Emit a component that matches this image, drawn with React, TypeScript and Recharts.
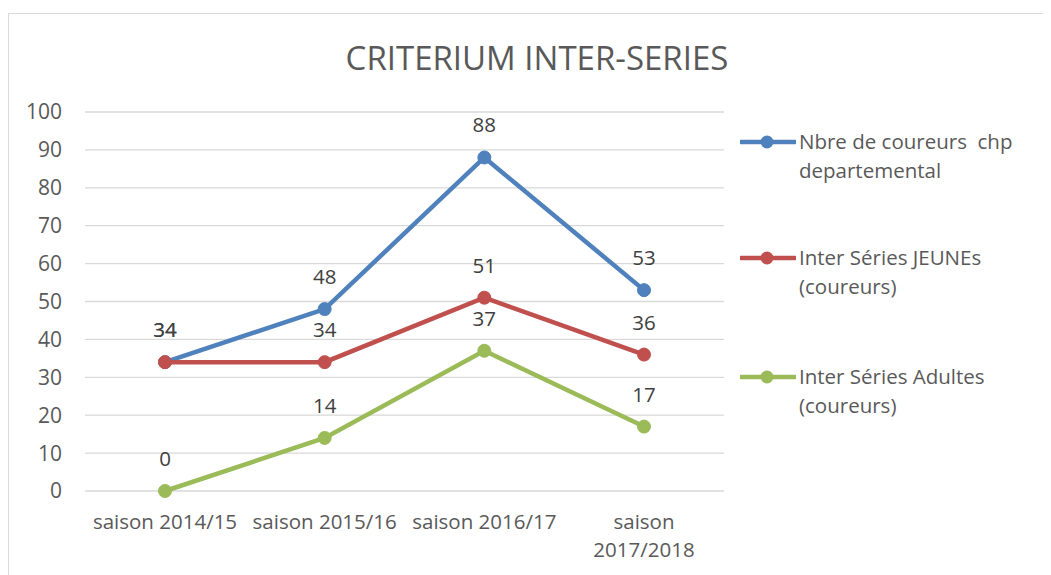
import React from "react";
import { LineChart, Line, XAxis, YAxis, CartesianGrid, LabelList } from "recharts";

const categories = ["saison 2014/15", "saison 2015/16", "saison 2016/17", "saison\n2017/2018"];
const chpDepartemental = [34, 48, 88, 53];
const interJeunes = [34, 34, 51, 36];
const interAdultes = [0, 14, 37, 17];
const yTicks = [0, 10, 20, 30, 40, 50, 60, 70, 80, 90, 100];

const seriesDefs = [
  { key: "chp", name: ["Nbre de coureurs  chp", "departemental"], color: "#4f81bd" },
  { key: "jeunes", name: ["Inter Séries JEUNEs", "(coureurs)"], color: "#c0504d" },
  { key: "adultes", name: ["Inter Séries Adultes", "(coureurs)"], color: "#9bbb59" },
];

const data = categories.map((c, i) => ({
  cat: c,
  chp: chpDepartemental[i],
  jeunes: interJeunes[i],
  adultes: interAdultes[i],
}));

const FONT = "'Open Sans', sans-serif";
const TEXT = "#595959";

const XTick = (props: any) => {
  const { x, y, payload } = props;
  const lines = String(payload.value).split("\n");
  return (
    <g transform={`translate(${x},${y})`}>
      {lines.map((l, i) => (
        <text key={i} x={0} y={0} dy={30 + i * 28} textAnchor="middle" fill={TEXT} fontSize={20.5} fontFamily={FONT}>
          {l}
        </text>
      ))}
    </g>
  );
};

export default function App() {
  return (
    <div style={{ position: "relative", width: 1043, height: 567, fontFamily: FONT, background: "#fff" }}>
      <div style={{ position: "absolute", left: 0, top: 5, width: 1060, height: 600, border: "1px solid #d9d9d9", boxSizing: "border-box" }} />
      <div style={{ position: "absolute", left: 0, width: 1058, top: 30, textAlign: "center", fontSize: 33, color: TEXT, lineHeight: "40px" }}>
        CRITERIUM INTER-SERIES
      </div>
      <div style={{ position: "absolute", left: 0, top: 0 }}>
        <LineChart width={1043} height={567} data={data} margin={{ top: 104, right: 327, bottom: 24, left: 0 }}>
          <CartesianGrid vertical={false} stroke="#d9d9d9" strokeWidth={1.3} />
          <XAxis
            dataKey="cat"
            axisLine={false}
            tickLine={false}
            tick={<XTick />}
            height={60}
            interval={0}
            padding={{ left: 80, right: 80 }}
          />
          <YAxis
            domain={[0, 100]}
            ticks={yTicks}
            axisLine={false}
            tickLine={false}
            width={77}
            tickMargin={17}
            tick={{ fill: TEXT, fontSize: 21, fontFamily: FONT }}
          />
          {seriesDefs.map((s) => (
            <Line
              key={s.key}
              dataKey={s.key}
              stroke={s.color}
              strokeWidth={4.5}
              dot={{ r: 6.5, fill: s.color, stroke: s.color, strokeWidth: 1 }}
              isAnimationActive={false}
              type="linear"
            >
              <LabelList dataKey={s.key} position="top" offset={25} fill="#404040" fontSize={20.5} fontFamily={FONT} />
            </Line>
          ))}
        </LineChart>
      </div>
      {seriesDefs.map((s, i) => {
        const tops = [119, 235, 354];
        return (
          <div key={s.key} style={{ position: "absolute", left: 732, top: tops[i] }}>
            <svg width={56} height={20} style={{ position: "absolute", left: 0, top: 5 }}>
              <line x1={1} y1={10} x2={55} y2={10} stroke={s.color} strokeWidth={4.5} strokeLinecap="round" />
              <circle cx={27} cy={10} r={6.5} fill={s.color} />
            </svg>
            <div style={{ position: "absolute", left: 59, top: 0, whiteSpace: "pre", fontSize: 20.5, lineHeight: "29px", color: TEXT }}>
              {s.name[0]}
              <br />
              {s.name[1]}
            </div>
          </div>
        );
      })}
    </div>
  );
}
